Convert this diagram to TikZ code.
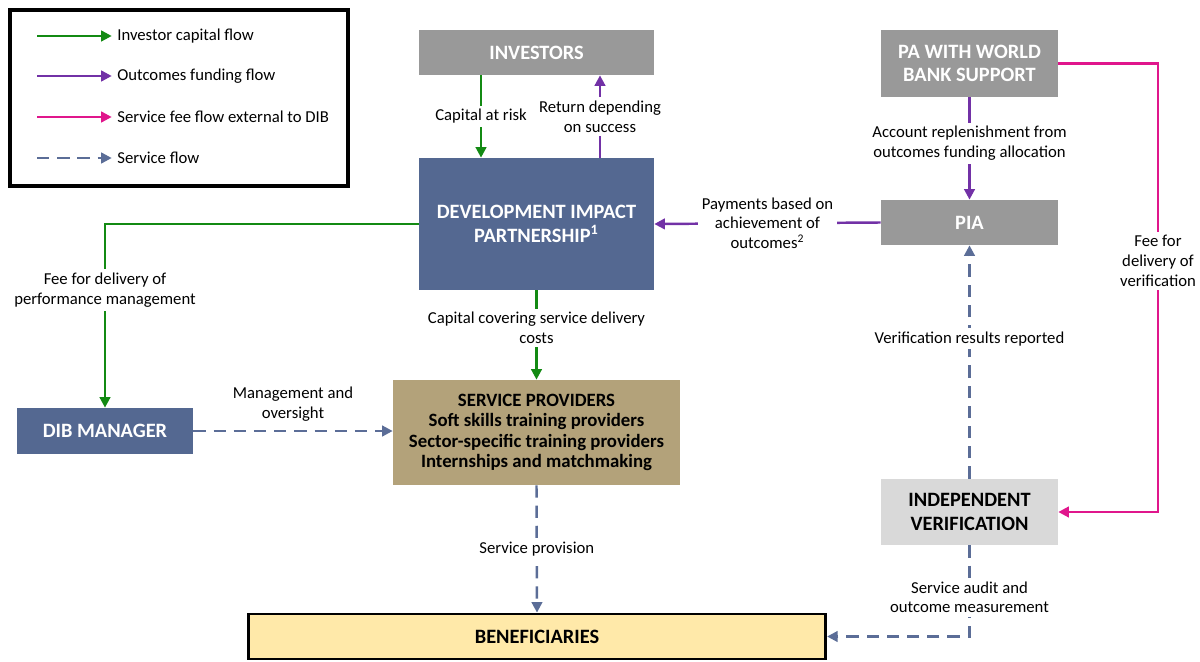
\documentclass[tikz,border=0pt]{standalone}
\usepackage{fontspec}
\setmainfont{Carlito}
\usetikzlibrary{arrows.meta, positioning}
\definecolor{dipblue}{HTML}{546891}
\definecolor{invgray}{HTML}{999999}
\definecolor{verigray}{HTML}{D9D9D9}
\definecolor{sptan}{HTML}{B3A27A}
\definecolor{benyellow}{HTML}{FFE9A9}
\definecolor{capgreen}{HTML}{138A13}
\definecolor{outpurple}{HTML}{7231A6}
\definecolor{feemag}{HTML}{E0168C}
\definecolor{servblue}{HTML}{5B6D97}

\begin{document}
\begin{tikzpicture}[
  x=0.02cm, y=-0.02cm,
  >={Triangle[length=6pt, width=6pt]},
  box/.style={rectangle, inner sep=2pt, align=center, font=\fontsize{11.6}{13.5}\selectfont\bfseries},
  darkbox/.style={box, fill=dipblue, text=white},
  greybox/.style={box, fill=invgray, text=white},
  lightbox/.style={box, fill=verigray, text=black},
  tanbox/.style={box, fill=sptan, text=black, font=\fontsize{10.7}{11.5}\selectfont\bfseries},
  benbox/.style={box, fill=benyellow, draw=black, line width=1.6pt},
  capital/.style={->, line width=1.4pt, capgreen},
  outcome/.style={->, line width=1.4pt, outpurple},
  fee/.style={->, line width=1.4pt, feemag},
  service/.style={->, line width=1.4pt, servblue, dash pattern=on 7pt off 4.5pt},
  lbl/.style={fill=white, text=black, align=center, inner sep=2pt, font=\fontsize{9.5}{11.3}\selectfont},
  legtext/.style={anchor=west, inner sep=0pt, font=\fontsize{9.5}{11.3}\selectfont},
]
\useasboundingbox (0,0) rectangle (1200,662);

% --- Legend (top left) ---
\draw[line width=2pt] (10,10) rectangle (348,186);
\node[legtext] (legC) at (117,36) {Investor capital flow};
\node[legtext] (legO) at (117,76) {Outcomes funding flow};
\node[legtext] (legF) at (117,117) {Service fee flow external to DIB};
\node[legtext] (legS) at (117,158) {Service flow};
\coordinate (legCs) at (37,36);
\coordinate (legOs) at (37,76);
\coordinate (legFs) at (37,117);
\coordinate (legSs) at (37,158);
\draw[capital] (legCs) -- ([xshift=-3pt]legC.west);
\draw[outcome] (legOs) -- ([xshift=-3pt]legO.west);
\draw[fee] (legFs) -- ([xshift=-3pt]legF.west);
\draw[service] (legSs) -- ([xshift=-3pt]legS.west);

% --- Boxes ---
\node[greybox, minimum width=4.7cm, minimum height=0.9cm] (inv) at (536.5,52.5) {INVESTORS};
\node[darkbox, minimum width=4.7cm, minimum height=2.64cm] (dip) at (536.5,224) {DEVELOPMENT IMPACT\\PARTNERSHIP\textsuperscript{1}};
\node[greybox, minimum width=3.54cm, minimum height=1.34cm] (pa) at (969.5,63.5) {PA WITH WORLD\\BANK SUPPORT};
\node[greybox, minimum width=3.54cm, minimum height=0.9cm] (pia) at (969.5,222.5) {PIA};
\node[darkbox, minimum width=3.52cm, minimum height=0.92cm] (dibm) at (105,431) {DIB MANAGER};
\node[tanbox, minimum width=5.74cm, minimum height=2.1cm] (sp) at (536.5,432.5) {SERVICE PROVIDERS\\Soft skills training providers\\Sector-specific training providers\\Internships and matchmaking};
\node[lightbox, minimum width=3.54cm, minimum height=1.32cm] (iv) at (969.5,512) {INDEPENDENT\\VERIFICATION};
\node[benbox, minimum width=11.55cm, minimum height=0.9cm] (ben) at (537,636.5) {BENEFICIARIES};

% --- Capital flows ---
\draw[capital] ([xshift=-1.11cm]inv.south) -- node[lbl] {Capital at risk} ([xshift=-1.11cm]dip.north);
\draw[capital] (dip.west) -| node[lbl, pos=0.68] {Fee for delivery of\\performance management} (dibm.north);
\draw[capital] (dip.south) -- node[lbl, pos=0.42] {Capital covering service delivery\\costs} (sp.north);

% --- Outcomes funding flows ---
\draw[outcome] ([xshift=1.27cm]dip.north) -- node[lbl] {Return depending\\on success} ([xshift=1.27cm]inv.south);
\draw[outcome] (pia.west) -- node[lbl] {Payments based on\\achievement of\\outcomes\textsuperscript{2}} (dip.east);
\draw[outcome] (pa.south) -- node[lbl, pos=0.45] {Account replenishment from\\outcomes funding allocation} (pia.north);

% --- Fee external to DIB ---
\coordinate (feeturn) at (1158,63.5);
\draw[fee] (pa.east) -- (feeturn) |- node[lbl, pos=0.22] {Fee for\\delivery of\\verification} (iv.east);

% --- Service flows ---
\draw[service] (dibm.east) -- node[lbl, above=3pt, fill=none] {Management and\\oversight} (dibm.east -| sp.west);
\draw[service] (sp.south) -- node[lbl] {Service provision} (ben.north);
\draw[service] (iv.north) -- node[lbl, pos=0.6] {Verification results reported} (pia.south);
\draw[service] (iv.south) |- node[lbl, pos=0.285] {Service audit and\\outcome measurement} (ben.east);

\end{tikzpicture}
\end{document}
